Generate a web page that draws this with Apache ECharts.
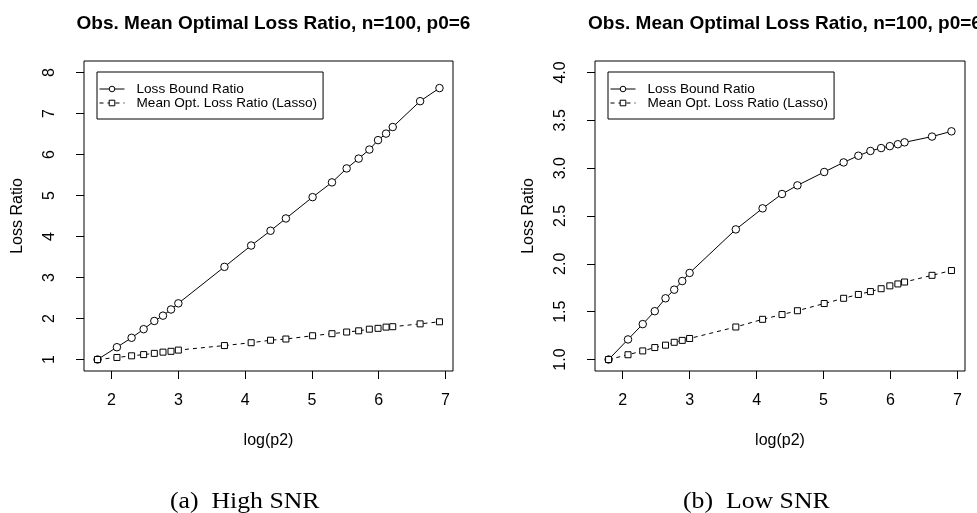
<!DOCTYPE html>
<html>
<head>
<meta charset="utf-8">
<script src="https://cdn.jsdelivr.net/npm/echarts@6/dist/echarts.min.js"></script>
<style>
  html, body { margin: 0; padding: 0; background: #fff; }
  #main { width: 977px; height: 513px; }
</style>
</head>
<body>
<div id="main"></div>
<script>
// log(p2) for p2 = 6 ... 1000
let logP2 = [1.79, 2.08, 2.30, 2.48, 2.64, 2.77, 2.89, 3.00, 3.69, 4.09, 4.38, 4.61, 5.01, 5.30, 5.52, 5.70, 5.86, 5.99, 6.11, 6.21, 6.62, 6.91];

// (a) High SNR
let highBound = [1.00, 1.30, 1.53, 1.74, 1.94, 2.07, 2.22, 2.37, 3.26, 3.78, 4.14, 4.44, 4.96, 5.32, 5.66, 5.90, 6.12, 6.35, 6.51, 6.67, 7.30, 7.62];
let highLasso = [1.00, 1.05, 1.09, 1.12, 1.15, 1.18, 1.20, 1.23, 1.34, 1.41, 1.47, 1.50, 1.58, 1.63, 1.67, 1.70, 1.74, 1.76, 1.79, 1.80, 1.87, 1.92];

// (b) Low SNR
let lowBound = [1.00, 1.21, 1.37, 1.505, 1.64, 1.73, 1.82, 1.905, 2.36, 2.58, 2.73, 2.82, 2.96, 3.06, 3.13, 3.18, 3.21, 3.23, 3.25, 3.27, 3.33, 3.385];
let lowLasso = [1.00, 1.05, 1.09, 1.125, 1.15, 1.18, 1.20, 1.22, 1.34, 1.42, 1.47, 1.51, 1.585, 1.64, 1.68, 1.71, 1.74, 1.77, 1.79, 1.81, 1.88, 1.93];

let xTicks = [2, 3, 4, 5, 6, 7];
let highTicks = [1, 2, 3, 4, 5, 6, 7, 8];
let lowTicks = [1.0, 1.5, 2.0, 2.5, 3.0, 3.5, 4.0];

let titleText = "Obs. Mean Optimal Loss Ratio, n=100, p0=6";
let boundName = "Loss Bound Ratio";
let lassoName = "Mean Opt. Loss Ratio (Lasso)";

let font = "'Liberation Sans', Arial, Helvetica, sans-serif";
let serif = "23px 'Liberation Serif', 'DejaVu Serif', serif";

function pairs(xs, ys) {
  return xs.map((x, i) => [x, ys[i]]);
}

// R style: pad 4% of the data range on each side
let xMin = 1.7918 - 0.04 * (6.9078 - 1.7918);
let xMax = 6.9078 + 0.04 * (6.9078 - 1.7918);

function xAxis(gridIndex) {
  return {
    type: "value",
    gridIndex: gridIndex,
    min: xMin,
    max: xMax,
    name: "log(p2)",
    nameLocation: "middle",
    nameGap: 62,
    nameTextStyle: { color: "#000", fontFamily: font, fontSize: 16 },
    axisLine: { show: false },
    axisTick: { show: true, inside: false, length: 8, customValues: xTicks, lineStyle: { color: "#000" } },
    axisLabel: { customValues: xTicks, margin: 22, color: "#000", fontFamily: font, fontSize: 16 },
    splitLine: { show: false },
  };
}

function yAxis(gridIndex, lo, hi, ticks, digits) {
  let pad = 0.04 * (hi - lo);
  return {
    type: "value",
    gridIndex: gridIndex,
    min: lo - pad,
    max: hi + pad,
    name: "Loss Ratio",
    nameLocation: "middle",
    nameRotate: 90,
    nameGap: 58,
    nameTextStyle: { color: "#000", fontFamily: font, fontSize: 16 },
    axisLine: { show: false },
    axisTick: { show: true, inside: false, length: 8, customValues: ticks, lineStyle: { color: "#000" } },
    axisLabel: {
      customValues: ticks,
      rotate: 90,
      margin: 26,
      color: "#000",
      fontFamily: font,
      fontSize: 16,
      formatter: (v) => v.toFixed(digits),
    },
    splitLine: { show: false },
  };
}

function boundSeries(idx, ys) {
  return {
    name: boundName,
    type: "line",
    xAxisIndex: idx,
    yAxisIndex: idx,
    data: pairs(logP2, ys),
    symbol: "circle",
    symbolSize: 7.5,
    showAllSymbol: true,
    itemStyle: { color: "#fff", borderColor: "#000", borderWidth: 1 },
    lineStyle: { color: "#000", width: 1, type: "solid" },
    emphasis: { disabled: true },
  };
}

function lassoSeries(idx, ys) {
  return {
    name: lassoName,
    type: "line",
    xAxisIndex: idx,
    yAxisIndex: idx,
    data: pairs(logP2, ys),
    symbol: "rect",
    symbolSize: 6,
    showAllSymbol: true,
    itemStyle: { color: "#fff", borderColor: "#000", borderWidth: 1 },
    lineStyle: { color: "#000", width: 1, type: [4, 4] },
    emphasis: { disabled: true },
  };
}

function legend(left) {
  return {
    left: left,
    top: 72,
    orient: "vertical",
    data: [boundName, lassoName],
    itemWidth: 25,
    itemHeight: 7,
    itemGap: 0,
    padding: [10, 6, 9, 2],
    borderColor: "#000",
    borderWidth: 1,
    borderRadius: 0,
    selectedMode: false,
    lineStyle: { width: 1 },
    itemStyle: { borderWidth: 1 },
    textStyle: { color: "#000", fontFamily: font, fontSize: 13.6, lineHeight: 14, padding: [0, 0, 0, 7] },
  };
}

let myChart = echarts.init(document.getElementById("main"));

let option = {
  backgroundColor: "#fff",
  animation: false,
  title: [
    { text: titleText, left: 268.5, textAlign: "center", top: 9, textStyle: { color: "#000", fontFamily: font, fontSize: 19, fontWeight: "bold" } },
    { text: titleText, left: 780, textAlign: "center", top: 9, textStyle: { color: "#000", fontFamily: font, fontSize: 19, fontWeight: "bold" } },
  ],
  legend: [legend(97), legend(608)],
  grid: [
    { left: 84, top: 61, width: 369, height: 310, show: true, borderColor: "#000", borderWidth: 1, backgroundColor: "transparent" },
    { left: 595, top: 61, width: 370, height: 310, show: true, borderColor: "#000", borderWidth: 1, backgroundColor: "transparent" },
  ],
  xAxis: [xAxis(0), xAxis(1)],
  yAxis: [yAxis(0, 1, 8, highTicks, 0), yAxis(1, 1, 4, lowTicks, 1)],
  series: [
    boundSeries(0, highBound),
    lassoSeries(0, highLasso),
    boundSeries(1, lowBound),
    lassoSeries(1, lowLasso),
  ],
  graphic: [
    { type: "text", x: 170, y: 490, scaleX: 1.12, style: { text: "(a)  High SNR", font: serif, fill: "#000" } },
    { type: "text", x: 683, y: 490, scaleX: 1.12, style: { text: "(b)  Low SNR", font: serif, fill: "#000" } },
  ],
};

myChart.setOption(option);
</script>
</body>
</html>
